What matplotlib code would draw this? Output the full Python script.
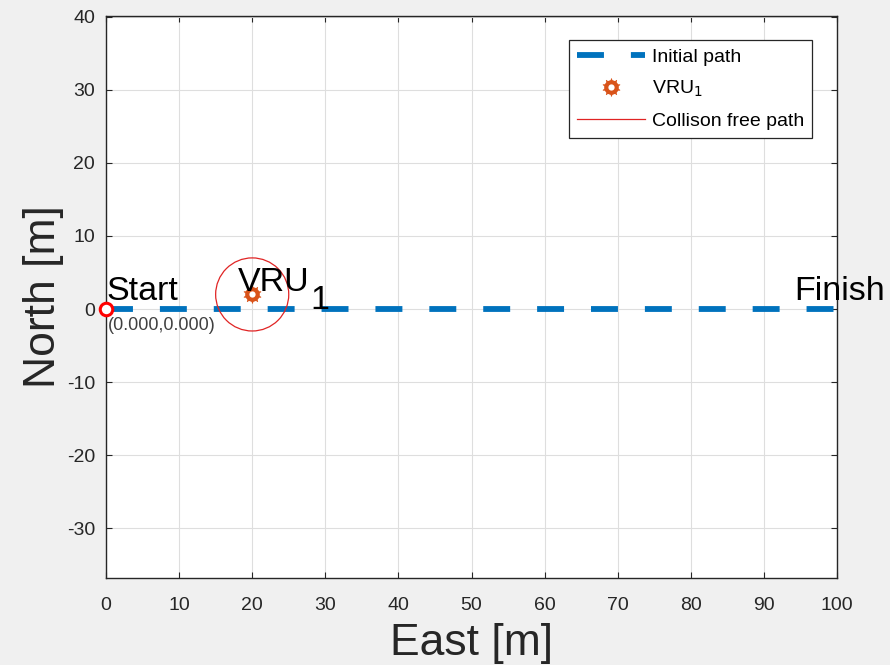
import matplotlib.pyplot as plt
from matplotlib.lines import Line2D
from matplotlib.patches import Circle
from matplotlib.legend_handler import HandlerTuple

plt.rcParams['font.family'] = ['Liberation Sans', 'DejaVu Sans']
plt.rcParams['lines.scale_dashes'] = False
plt.rcParams['axes.unicode_minus'] = False

# data
path_x = [0, 100]
path_y = [0, 0]
start_xy = (0, 0)
vru_xy = (20, 2)
safe_radius = 5
x_ticks = list(range(0, 101, 10))
y_ticks = list(range(-30, 41, 10))

blue = '#0072BD'
orange = '#D95319'
red = '#e02424'
dark = '#262626'

fig = plt.figure(figsize=(8.9, 6.65), dpi=100, facecolor='#f0f0f0')
ax = fig.add_axes([106/890, 1-578/665, 731/890, 562/665])

path_line, = ax.plot(path_x, path_y, color=blue, lw=4.2, dashes=(19.4, 19.4),
                     solid_capstyle='butt', dash_capstyle='butt', zorder=3)

# gear-like VRU marker: ring + teeth + hole
vru_ring, = ax.plot(vru_xy[0], vru_xy[1], ls='none', marker='o', ms=9.5,
                    mfc=orange, mec=orange, zorder=5)
vru_teeth, = ax.plot(vru_xy[0], vru_xy[1], ls='none', marker=(10, 1, 0), ms=13,
                     mfc=orange, mec=orange, mew=0.5, zorder=5)
vru_hole, = ax.plot(vru_xy[0], vru_xy[1], ls='none', marker='o', ms=4.5,
                    mfc='white', mec='white', mew=0, zorder=6)

ax.add_patch(Circle(vru_xy, safe_radius, fill=False, ec=red, lw=0.9, zorder=4))
ax.plot(start_xy[0], start_xy[1], ls='none', marker='o', ms=9, mfc='white',
        mec='red', mew=2.2, zorder=7, clip_on=False)

ax.text(0.1, 1.3, 'Start', fontsize=24.5, color='black', va='baseline', zorder=8)
ax.text(0.2, -2.9, '(0.000,0.000)', fontsize=13, color='#404040', va='baseline', zorder=8)
ax.text(94.2, 1.3, 'Finish', fontsize=24.5, color='black', va='baseline',
        clip_on=False, zorder=8)
vt = ax.text(18.0, 2.5, 'VRU', fontsize=24.5, color='black', va='baseline', zorder=8)
ax.annotate('1', xy=(1, 0), xycoords=vt, xytext=(1, -11), textcoords='offset pixels',
            fontsize=24.5, color='black', va='baseline', ha='left', zorder=8)

ax.set_xlim(0, 100)
ax.set_ylim(-36.8, 40.1)
ax.set_xticks(x_ticks)
ax.set_yticks(y_ticks)
ax.grid(True, color='#dedede', lw=0.8)
ax.set_axisbelow(True)
ax.tick_params(direction='in', length=4, width=0.8, colors=dark, labelsize=14,
               top=True, right=True, pad=8)
ax.tick_params(axis='x', pad=13.5)
for s in ax.spines.values():
    s.set_color(dark)
    s.set_linewidth(1.0)

ax.set_xlabel('East [m]', fontsize=32, color=dark, labelpad=7)
ax.set_ylabel('North [m]', fontsize=32, color=dark, labelpad=2)

free_proxy = Line2D([], [], color=red, lw=0.9)
leg = ax.legend([path_line, (vru_ring, vru_teeth, vru_hole), free_proxy],
                ['Initial path', 'VRU$_1$', 'Collison free path'],
                handler_map={tuple: HandlerTuple(ndivide=1, pad=0)},
                loc='upper right', bbox_to_anchor=(0.9658, 0.957), borderaxespad=0,
                fontsize=14, handlelength=3.5, handletextpad=0.35,
                labelspacing=0.68, borderpad=0.4, fancybox=False, framealpha=1)
leg.get_frame().set_edgecolor(dark)
leg.get_frame().set_linewidth(0.9)

fig.savefig('out.png', dpi=100, facecolor=fig.get_facecolor())
